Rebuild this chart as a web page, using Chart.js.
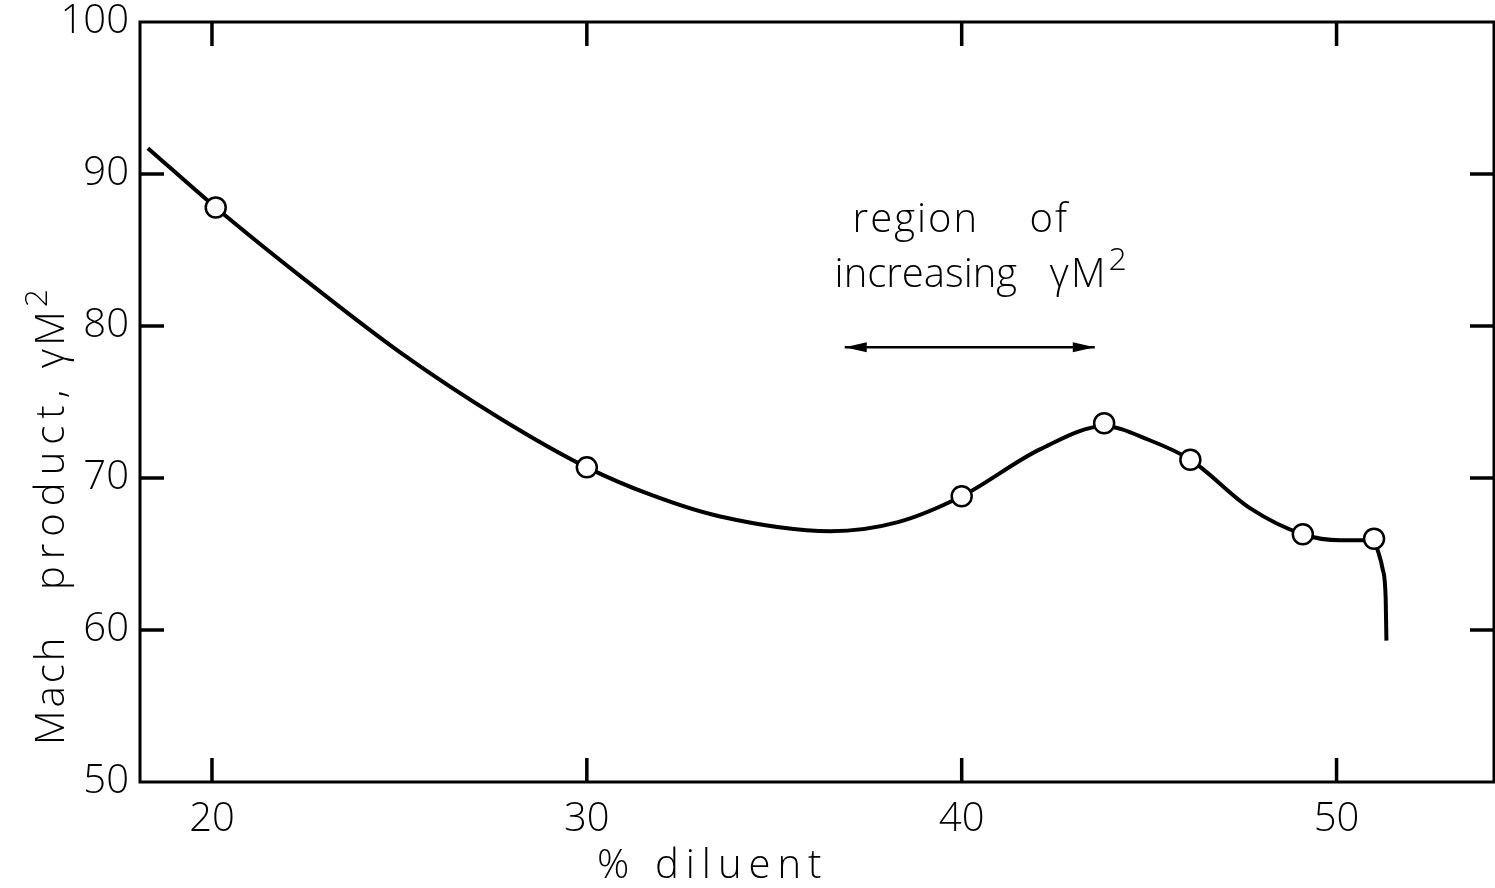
<!DOCTYPE html>
<html>
<head>
<meta charset="utf-8">
<script src="https://cdn.jsdelivr.net/npm/chart.js@4.4.1/dist/chart.umd.min.js"></script>
<style>
  html, body { margin: 0; padding: 0; background: #fff; overflow: hidden; }
  #wrap { width: 1495px; height: 888px; }
  canvas { display: block; }
</style>
</head>
<body>
<div id="wrap"><canvas id="myChart"></canvas></div>
<script>
// tick values
const xTicks = [20, 30, 40, 50];
const yTicks = [50, 60, 70, 80, 90, 100];

// measured points (open circles)
const pointX = [20.1, 30.0, 40.0, 43.8, 46.1, 49.1, 51.0];
const pointY = [87.8, 70.7, 68.8, 73.6, 71.2, 66.3, 66.0];

// faired curve
const curveX = [18.29, 20.1, 22.35, 25.0, 27.7, 30.0, 31.7, 33.5, 36.5, 38.3, 40.0, 42.1, 43.8, 45.0, 46.1, 47.7, 49.1, 50.1, 51.0, 51.09, 51.23, 51.31, 51.33];
const curveY = [91.7, 87.8, 83.3, 78.3, 73.9, 70.7, 68.9, 67.5, 66.5, 67.1, 68.8, 71.9, 73.4, 72.5, 71.2, 68.0, 66.3, 65.9, 65.9, 65.3, 64.0, 62.1, 59.3];

const FONT = '"Open Sans", "Liberation Sans", sans-serif';

// draws a word followed by a raised "2"
function withSquare(ctx, text, x, y) {
    ctx.font = '300 40px ' + FONT;
    ctx.fillText(text, x, y);
    const w = ctx.measureText(text).width;
    ctx.font = '300 32px ' + FONT;
    ctx.fillText('2', x + w + 1, y - 17);
}

// frame, inward ticks on all sides, titles and the annotation
const framePlugin = {
    id: 'frame',
    afterDraw(chart) {
        const ctx = chart.ctx;
        const a = chart.chartArea;
        const xs = chart.scales.x, ys = chart.scales.y;
        ctx.save();
        ctx.strokeStyle = '#000';
        ctx.fillStyle = '#000';
        ctx.lineWidth = 3;
        ctx.strokeRect(a.left, a.top, a.right - a.left, a.bottom - a.top);

        const tl = 24;
        ctx.lineWidth = 3.5;
        ctx.beginPath();
        xTicks.forEach(v => {
            const px = xs.getPixelForValue(v);
            ctx.moveTo(px, a.bottom); ctx.lineTo(px, a.bottom - tl);
            ctx.moveTo(px, a.top); ctx.lineTo(px, a.top + tl);
        });
        yTicks.slice(1, -1).forEach(v => {
            const py = ys.getPixelForValue(v);
            ctx.moveTo(a.left, py); ctx.lineTo(a.left + tl, py);
            ctx.moveTo(a.right, py); ctx.lineTo(a.right - tl, py);
        });
        ctx.stroke();

        ctx.textAlign = 'left';
        ctx.textBaseline = 'alphabetic';
        ctx.font = '300 40px ' + FONT;

        // x title
        ctx.letterSpacing = '3px';
        ctx.fillText('%', 597, 878);
        ctx.letterSpacing = '7px';
        ctx.fillText('diluent', 655, 878);

        // y title (rotated, reads bottom to top)
        ctx.save();
        ctx.translate(64, 0);
        ctx.rotate(-Math.PI / 2);
        ctx.letterSpacing = '3px';
        ctx.fillText('Mach', -745, 0);
        ctx.letterSpacing = '7px';
        ctx.fillText('product,', -590, 0);
        ctx.letterSpacing = '3px';
        withSquare(ctx, 'γM', -368, 0);
        ctx.restore();

        // annotation
        ctx.letterSpacing = '2px';
        ctx.font = '300 40px ' + FONT;
        ctx.fillText('region', xs.getPixelForValue(37.09), ys.getPixelForValue(86.2));
        ctx.fillText('of', xs.getPixelForValue(41.81), ys.getPixelForValue(86.2));
        ctx.letterSpacing = '0px';
        ctx.fillText('increasing', xs.getPixelForValue(36.61), ys.getPixelForValue(82.55));
        ctx.letterSpacing = '2px';
        withSquare(ctx, 'γM', xs.getPixelForValue(42.35), ys.getPixelForValue(82.55));

        // double arrow
        const ax1 = xs.getPixelForValue(36.88), ax2 = xs.getPixelForValue(43.55);
        const ay = ys.getPixelForValue(78.6);
        ctx.lineWidth = 2.5;
        ctx.beginPath();
        ctx.moveTo(ax1, ay); ctx.lineTo(ax2, ay);
        ctx.stroke();
        ctx.beginPath();
        ctx.moveTo(ax1, ay); ctx.lineTo(ax1 + 22, ay - 5); ctx.lineTo(ax1 + 22, ay + 5); ctx.closePath();
        ctx.moveTo(ax2, ay); ctx.lineTo(ax2 - 22, ay - 5); ctx.lineTo(ax2 - 22, ay + 5); ctx.closePath();
        ctx.fill();
        ctx.restore();
    }
};

const ctx = document.getElementById('myChart').getContext('2d');
new Chart(ctx, {
    type: 'scatter',
    data: {
        datasets: [{
            label: 'points',
            data: pointX.map((x, i) => ({ x: x, y: pointY[i] })),
            showLine: false,
            pointRadius: 10,
            pointBackgroundColor: '#fff',
            pointBorderColor: '#000',
            pointBorderWidth: 2.5,
            order: 0
        }, {
            label: 'curve',
            data: curveX.map((x, i) => ({ x: x, y: curveY[i] })),
            showLine: true,
            borderColor: '#000',
            borderWidth: 4,
            pointRadius: 0,
            cubicInterpolationMode: 'monotone',
            order: 1
        }]
    },
    options: {
        responsive: true,
        maintainAspectRatio: false,
        animation: false,
        layout: { autoPadding: false, padding: { top: 22, right: 1, left: 0, bottom: 0 } },
        plugins: { legend: { display: false }, tooltip: { enabled: false } },
        scales: {
            x: {
                type: 'linear',
                min: 18.08,
                max: 54.2,
                afterBuildTicks: s => { s.ticks = xTicks.map(v => ({ value: v })); },
                afterFit: s => { s.height = 106; s.paddingLeft = 0; s.paddingRight = 0; },
                grid: { display: false, drawTicks: false },
                border: { display: false },
                ticks: {
                    color: '#000',
                    padding: 14,
                    font: { family: FONT, size: 40, weight: 300 }
                }
            },
            y: {
                type: 'linear',
                min: 50,
                max: 100,
                afterBuildTicks: s => { s.ticks = yTicks.map(v => ({ value: v })); },
                afterFit: s => { s.width = 140; s.paddingTop = 0; s.paddingBottom = 0; },
                grid: { display: false, drawTicks: false },
                border: { display: false },
                ticks: {
                    color: '#000',
                    padding: 11,
                    font: { family: FONT, size: 40, weight: 300 }
                }
            }
        }
    },
    plugins: [framePlugin]
});
</script>
</body>
</html>
